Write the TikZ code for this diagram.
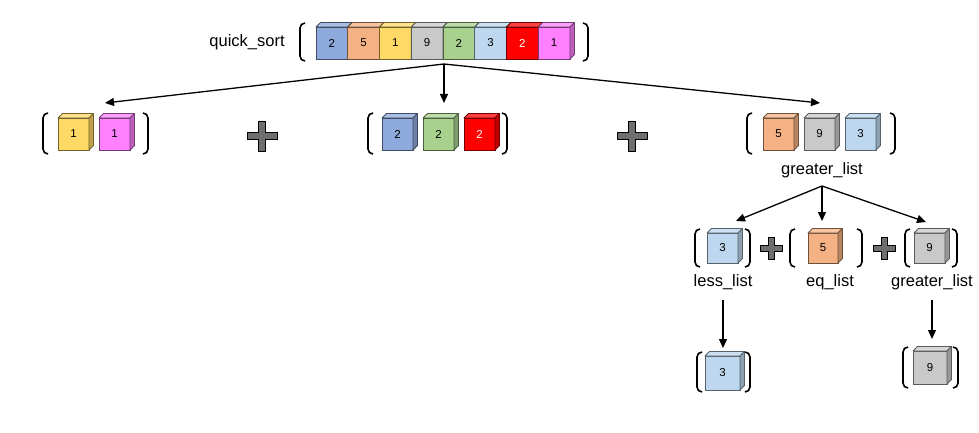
\documentclass[tikz,border=0pt]{standalone}
\usepackage{fontspec}
\setmainfont{Liberation Sans}
\usetikzlibrary{arrows.meta}

\definecolor{cblue}{HTML}{8EA9DB}
\definecolor{corange}{HTML}{F4B183}
\definecolor{cyellow}{HTML}{FFD966}
\definecolor{cgray}{HTML}{C9C9C9}
\definecolor{cgreen}{HTML}{A9D18E}
\definecolor{clblue}{HTML}{BDD7EE}
\definecolor{cred}{HTML}{FF0000}
\definecolor{cmag}{HTML}{FF80FF}
\definecolor{plusgray}{HTML}{6E6E6E}

\tikzset{
  cubefront/.style={rectangle, inner sep=0pt, outer sep=0pt, line width=0.8pt,
    font=\fontsize{11.5}{13}\selectfont},
  cubeside/.style={line width=0.8pt, line join=round},
  brk/.style={line width=1.6pt, rounded corners=5pt},
  plusstyle/.style={fill=plusgray, draw=black, line width=0.9pt},
  flow/.style={line width=1.3pt, -{Triangle[length=9pt,width=8pt]}},
  lbl/.style={font=\fontsize{16.5}{19}\selectfont, inner sep=0pt}
}

% \qcube[text colour]{name}{x}{y}{width}{height}{fill}{number}
\newcommand{\qcube}[8][black]{%
  \node[cubefront, anchor=north west, minimum width=#5pt, minimum height=#6pt,
        fill=#7, draw=#7!45!black, text=#1] (#2) at (#3,#4) {#8};
  \filldraw[cubeside, fill=#7!75!white, draw=#7!45!black]
    (#2.north west) -- ++(4.5pt,4.5pt) -- ([xshift=4.5pt,yshift=4.5pt]#2.north east)
    -- (#2.north east) -- cycle;
  \filldraw[cubeside, fill=#7!75!black, draw=#7!45!black]
    (#2.north east) -- ++(4.5pt,4.5pt) -- ([xshift=4.5pt,yshift=4.5pt]#2.south east)
    -- (#2.south east) -- cycle;
}
% brackets: x, top, bottom
\newcommand{\lbrk}[3]{\draw[brk] (#1+5,#2) -- (#1,#2) -- (#1,#3) -- (#1+5,#3);}
\newcommand{\rbrk}[3]{\draw[brk] (#1-5,#2) -- (#1,#2) -- (#1,#3) -- (#1-5,#3);}
% plus sign: centre x, centre y, arm, half thickness
\newcommand{\plussign}[4]{\filldraw[plusstyle]
  (#1-#4,#2-#3) -- (#1+#4,#2-#3) -- (#1+#4,#2-#4) -- (#1+#3,#2-#4) -- (#1+#3,#2+#4)
  -- (#1+#4,#2+#4) -- (#1+#4,#2+#3) -- (#1-#4,#2+#3) -- (#1-#4,#2+#4) -- (#1-#3,#2+#4)
  -- (#1-#3,#2-#4) -- (#1-#4,#2-#4) -- cycle;}

\begin{document}
\begin{tikzpicture}[x=1pt,y=-1pt]
\useasboundingbox (0,0) rectangle (979,433);

% input array
\node[lbl] (qs) at (247,42) {quick\_sort};
\lbrk{300}{23}{61}
\qcube{a1}{316}{27}{31.75}{32}{cblue}{2}
\qcube{a2}{347.75}{27}{31.75}{32}{corange}{5}
\qcube{a3}{379.5}{27}{31.75}{32}{cyellow}{1}
\qcube{a4}{411.25}{27}{31.75}{32}{cgray}{9}
\qcube{a5}{443}{27}{31.75}{32}{cgreen}{2}
\qcube{a6}{474.75}{27}{31.75}{32}{clblue}{3}
\qcube[white]{a7}{506.5}{27}{31.75}{32}{cred}{2}
\qcube{a8}{538.25}{27}{31.75}{32}{cmag}{1}
\rbrk{588}{23}{61}

% first partition
\coordinate (split) at (444,64);
\coordinate (lessIn) at (105,103);
\coordinate (eqIn) at (444,103);
\coordinate (greatIn) at (820,103);
\draw[flow] (split) -- (lessIn);
\draw[flow] (split) -- (eqIn);
\draw[flow] (split) -- (greatIn);

% less part
\lbrk{43}{113}{154}
\qcube{l1}{58}{118}{31}{32}{cyellow}{1}
\qcube{l2}{99}{118}{31}{32}{cmag}{1}
\rbrk{148}{113}{154}

\plussign{262}{136}{15}{3.2}

% equal part
\lbrk{368}{113}{154}
\qcube{e1}{382}{118}{31}{32}{cblue}{2}
\qcube{e2}{423}{118}{31}{32}{cgreen}{2}
\qcube[white]{e3}{464}{118}{31}{32}{cred}{2}
\rbrk{507}{113}{154}

\plussign{632}{136}{15}{3.2}

% greater part
\lbrk{747}{113}{154}
\qcube{g1}{763}{118}{31}{32}{corange}{5}
\qcube{g2}{804}{118}{31}{32}{cgray}{9}
\qcube{g3}{845}{118}{31}{32}{clblue}{3}
\rbrk{895}{113}{154}
\node[lbl] (gl) at (822,170) {greater\_list};

% second partition
\coordinate (split2) at (822,186);
\coordinate (less2In) at (736,221);
\coordinate (eq2In) at (822,221);
\coordinate (great2In) at (926,222);
\draw[flow] (split2) -- (less2In);
\draw[flow] (split2) -- (eq2In);
\draw[flow] (split2) -- (great2In);

\lbrk{695}{229}{267}
\qcube{s1}{707}{233}{31}{30}{clblue}{3}
\rbrk{750}{229}{267}
\plussign{771}{248}{11}{3}
\lbrk{790}{229}{267}
\qcube{s2}{808}{233}{30}{30}{corange}{5}
\rbrk{862}{229}{267}
\plussign{884}{248}{11}{3}
\lbrk{905}{229}{267}
\qcube{s3}{914}{233}{31}{30}{cgray}{9}
\rbrk{957}{229}{267}

\node[lbl] (ll) at (723,282) {less\_list};
\node[lbl] (el) at (830,282) {eq\_list};
\node[lbl] (gl2) at (932,282) {greater\_list};

% recursion results
\coordinate (lessTop) at (723,348);
\coordinate (greatTop) at (932,339);
\draw[flow] (ll.south |- 0,300) -- (lessTop);
\draw[flow] (gl2.south |- 0,300) -- (greatTop);

\lbrk{697}{352}{392}
\qcube{r1}{705}{356}{35}{34}{clblue}{3}
\rbrk{750}{352}{392}
\lbrk{903}{347}{388}
\qcube{r2}{913}{351}{34}{33}{cgray}{9}
\rbrk{958}{347}{388}
\end{tikzpicture}
\end{document}
